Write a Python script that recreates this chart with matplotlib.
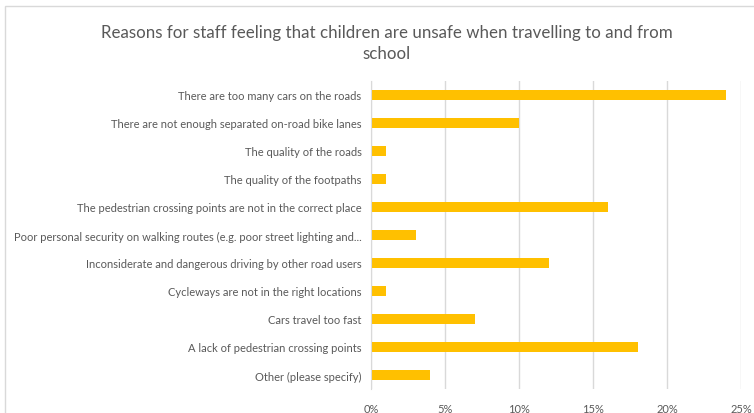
import matplotlib.pyplot as plt
from matplotlib.patches import Rectangle
from matplotlib.ticker import FuncFormatter

reasons = [
    "There are too many cars on the roads",
    "There are not enough separated on-road bike lanes",
    "The quality of the roads",
    "The quality of the footpaths",
    "The pedestrian crossing points are not in the correct place",
    "Poor personal security on walking routes (e.g. poor street lighting and...",
    "Inconsiderate and dangerous driving by other road users",
    "Cycleways are not in the right locations",
    "Cars travel too fast",
    "A lack of pedestrian crossing points",
    "Other (please specify)",
]
share = [24, 10, 1, 1, 16, 3, 12, 1, 7, 18, 4]
ticks = [0, 5, 10, 15, 20, 25]

plt.rcParams['font.family'] = ['Lato', 'DejaVu Sans']
text_grey = '#595959'

fig = plt.figure(figsize=(7.54, 4.14), dpi=100)
ax = fig.add_axes([0.4925, 0.058, 0.4903, 0.744])

pos = list(range(len(reasons)))
ax.barh(pos, share, height=0.33, color='#FFC000', zorder=3)
ax.set_ylim(len(reasons) - 0.5, -0.5)
ax.set_xlim(0, 25)
ax.set_yticks(pos)
ax.set_yticklabels(reasons, fontsize=8.0, color=text_grey)
ax.set_xticks(ticks)
ax.xaxis.set_major_formatter(FuncFormatter(lambda v, _: f"{v:.0f}%"))
ax.tick_params(axis='x', labelsize=8.0, labelcolor=text_grey, length=0, pad=10)
ax.tick_params(axis='y', length=0, pad=7)
ax.grid(axis='x', color='#D9D9D9', linewidth=1, zorder=0)

for side in ['top', 'right', 'bottom']:
    ax.spines[side].set_visible(False)
ax.spines['left'].set_color('#D9D9D9')
ax.spines['left'].set_zorder(4)

fig.text(0.5126, 0.895, "Reasons for staff feeling that children are unsafe when travelling to and from\nschool",
         ha='center', va='center', fontsize=12.2, color=text_grey, linespacing=1.4)

# chart frame
fig.patches.append(Rectangle((5 / 754, -0.05), 1.0, 1.05 - 7 / 414, transform=fig.transFigure,
                             fill=False, edgecolor='#D9D9D9', linewidth=1))

fig.savefig('out.png', dpi=100)
